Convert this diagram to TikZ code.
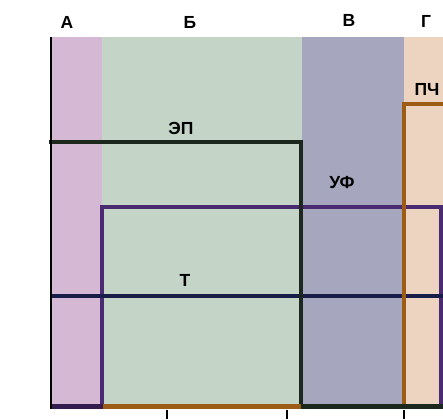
\documentclass[tikz,border=0pt]{standalone}
\usepackage{fontspec}
\setmainfont{Liberation Sans}
\definecolor{bandA}{RGB}{212,184,212}
\definecolor{bandB}{RGB}{196,212,198}
\definecolor{bandV}{RGB}{166,166,190}
\definecolor{bandG}{RGB}{236,212,192}
\definecolor{lineEP}{RGB}{28,40,30}
\definecolor{lineT}{RGB}{24,28,72}
\definecolor{lineUF}{RGB}{74,42,112}
\definecolor{linePCH}{RGB}{156,92,22}
\begin{document}
\begin{tikzpicture}[x=1pt,y=-1pt,
  lbl/.style={font=\fontsize{17.5}{17.5}\selectfont\bfseries, inner sep=0pt, anchor=center},
  eline/.style={line width=3.5pt, line cap=rect},
  tick/.style={line width=1.5pt, black}]
\useasboundingbox (0,0) rectangle (443,419);
% bands
\fill[bandA] (51,37) rectangle (102,406);
\fill[bandB] (102,37) rectangle (302,406);
\fill[bandV] (302,37) rectangle (404,406);
\fill[bandG] (404,37) rectangle (443,406);
% coordinates
\coordinate (ltop) at (51,37);
\coordinate (lbot) at (51,409);
\coordinate (ep1) at (51,142);
\coordinate (ep2) at (301,142);
\coordinate (ep3) at (301,406);
\coordinate (ep4) at (443,406);
\coordinate (t1) at (51,296);
\coordinate (t2) at (443,296);
\coordinate (uf1) at (102,406);
\coordinate (uf2) at (102,207);
\coordinate (uf3) at (441,207);
\coordinate (uf4) at (441,406);
\coordinate (p1) at (404,406);
\coordinate (p2) at (404,104);
\coordinate (p3) at (443,104);
\coordinate (b0) at (51,406);
\coordinate (b1) at (103,406);
\coordinate (b2) at (301,406);
% lines
\draw[lineUF, eline] (uf1) -- (uf2) -- (uf3) -- (uf4);
\draw[lineT, line width=4pt] (t1) -- (t2);
\draw[linePCH, eline] (p1) -- (p2) -- (p3);
\draw[lineEP, eline] (ep1) -- (ep2) -- (ep3);
\draw[lineEP, line width=5pt] (ep3) -- (ep4);
\draw[linePCH, line width=5pt] (b1) -- (b2);
\draw[lineUF!70!black, line width=5pt] (b0) -- (b1);
\draw[black, line width=2pt] (ltop) -- (lbot);
% ticks
\coordinate (k1a) at (167,410); \coordinate (k1b) at (167,419);
\coordinate (k2a) at (287,410); \coordinate (k2b) at (287,419);
\coordinate (k3a) at (404,410); \coordinate (k3b) at (404,419);
\draw[tick] (k1a) -- (k1b);
\draw[tick] (k2a) -- (k2b);
\draw[tick] (k3a) -- (k3b);
% labels
\node[lbl] (lA) at (67,22) {А};
\node[lbl] (lB) at (190,22) {Б};
\node[lbl] (lV) at (349,20) {В};
\node[lbl] (lG) at (426,21) {Г};
\node[lbl] (lPCH) at (427,89) {ПЧ};
\node[lbl] (lEP) at (181,128) {ЭП};
\node[lbl] (lUF) at (342,183) {УФ};
\node[lbl] (lT) at (185,280) {Т};
\end{tikzpicture}
\end{document}
